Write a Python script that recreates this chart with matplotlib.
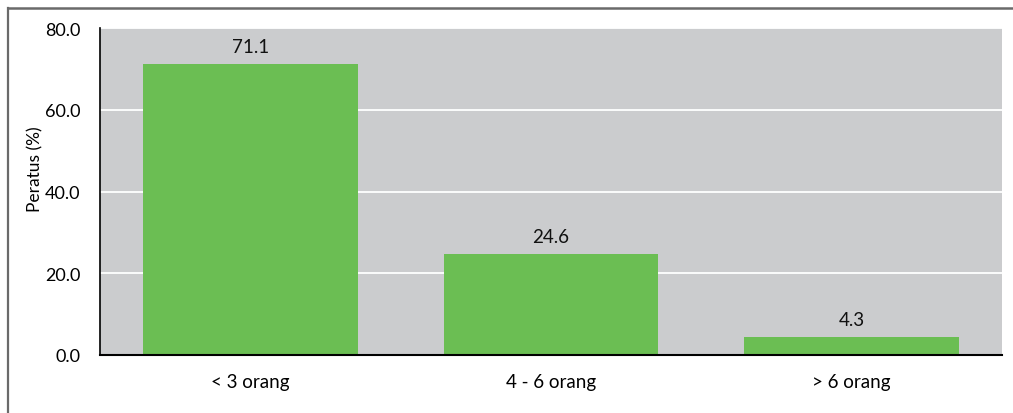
import matplotlib
matplotlib.use("Agg")
import matplotlib.pyplot as plt
from matplotlib.lines import Line2D

categories = ["< 3 orang", "4 - 6 orang", "> 6 orang"]
values = [71.1, 24.6, 4.3]
yticks = [0, 20, 40, 60, 80]

plt.rcParams["font.family"] = ["Lato", "DejaVu Sans"]

W, H = 1013, 414
fig = plt.figure(figsize=(W / 100, H / 100), dpi=100)
ax = fig.add_axes([100 / W, 1 - 356 / H, 902 / W, 327 / H])

ax.set_facecolor("#CBCCCE")
x = list(range(len(categories)))
bars = ax.bar(x, values, width=0.715, color="#6BBE53", zorder=3)
for xi, v in zip(x, values):
    ax.text(xi, v + 2.2, f"{v:.1f}", ha="center", va="bottom", fontsize=13.5, color="#111111")

ax.set_xlim(-0.5, 2.5)
ax.set_ylim(0, 80)
ax.set_yticks(yticks)
ax.set_yticklabels([f"{t:.1f}" for t in yticks], fontsize=13)
ax.set_xticks(x)
ax.set_xticklabels(categories, fontsize=13.5)
ax.tick_params(axis="both", length=0)
ax.tick_params(axis="y", pad=14)
ax.tick_params(axis="x", pad=13)
ax.grid(axis="y", color="white", linewidth=1.3, zorder=1)
ax.set_axisbelow(True)
for s in ["top", "right"]:
    ax.spines[s].set_visible(False)
ax.spines["left"].set_color("black")
ax.spines["bottom"].set_color("black")
ax.spines["left"].set_linewidth(1.2)
ax.spines["bottom"].set_linewidth(1.5)
ax.spines["left"].set_zorder(4)
ax.spines["bottom"].set_zorder(4)
ax.set_ylabel("Peratus (%)", fontsize=12.5)
ax.yaxis.set_label_coords(-0.063, 0.57)

# outer frame (left and top edges)
fig.add_artist(Line2D([7.5 / W, 7.5 / W], [0, 1 - 8.5 / H], color="#6a6a6a", linewidth=1.6))
fig.add_artist(Line2D([7.5 / W, 1], [1 - 8.5 / H, 1 - 8.5 / H], color="#6a6a6a", linewidth=1.8))

fig.savefig("out.png", dpi=100)
